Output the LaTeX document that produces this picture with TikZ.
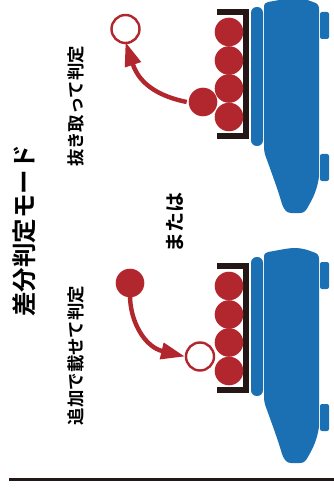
\documentclass[tikz,border=0pt]{standalone}
\usepackage{fontspec}
\setmainfont{Noto Sans CJK JP}[BoldFont={Noto Sans CJK JP Bold}]
\usetikzlibrary{arrows.meta}
\definecolor{busblue}{HTML}{1B70B3}
\definecolor{ballred}{HTML}{B2272E}
\definecolor{inkblack}{HTML}{231815}
\tikzset{
  ball/.style={circle,fill=ballred,minimum size=28.6pt,inner sep=0pt,outer sep=0pt},
  hole/.style={circle,draw=ballred,line width=2.4pt,fill=white,minimum size=28pt,inner sep=0pt,outer sep=1pt},
  move/.style={draw=ballred,line width=4.4pt,-{Triangle[length=24pt,width=16pt]}},
  tray/.style={draw=inkblack,line width=5.6pt,line join=miter},
  carbody/.style={fill=busblue,draw=none},
  vlabel/.style={rotate=90,inner sep=0pt,text=black,font=\fontsize{17.4pt}{18pt}\selectfont\bfseries}
}
\newcommand{\truckshape}{
  \fill[carbody] (264,8) .. controls (264,4) and (265,2.5) .. (268,2)
    .. controls (280,0) and (288,-2) .. (295,-2) .. controls (302,-2) and (308,0) .. (313,2)
    .. controls (317,3) and (319,5) .. (319,9) -- (319,177) .. controls (317,190) and (313,198) .. (309,205)
    .. controls (306,211) and (304,213) .. (300,213) -- (291,213) .. controls (287,213) and (284,210) .. (282,204)
    .. controls (278,190) and (272,174) .. (267,160) .. controls (265,155) and (264,152) .. (264,146) -- cycle;
  \fill[carbody,rounded corners=5.8pt] (251,7) rectangle (263,146);
  \fill[carbody,rounded corners=2pt] (320,12) rectangle (329,39);
  \fill[carbody,rounded corners=2pt] (320,154) rectangle (329,181);
}
\begin{document}
\begin{tikzpicture}[x=1pt,y=-1pt]
\useasboundingbox (0,0) rectangle (334,497);
\fill[white] (0,0) rectangle (334,497);
\begin{scope}
\clip (0,0) rectangle (334,497);
\truckshape
\begin{scope}[shift={(0,250)}]\truckshape\end{scope}
\end{scope}
% trays
\draw[tray] (217,12) -- (246,12) -- (246,136) -- (217,136);
\draw[tray] (217,266) -- (246,266) -- (246,390) -- (217,390);
% balls, upper
\node[ball] (u1) at (229,32) {};
\node[ball] (u2) at (229,60.5) {};
\node[ball] (u3) at (229,88.5) {};
\node[ball] (u4) at (229,117) {};
\node[ball] (ux) at (203,102) {};
\node[hole] (uo) at (125.5,29) {};
% balls, lower
\node[ball] (l1) at (229,286) {};
\node[ball] (l2) at (229,314.5) {};
\node[ball] (l3) at (229,342.5) {};
\node[ball] (l4) at (229,371) {};
\node[ball] (lx) at (130,283) {};
\node[hole] (lo) at (200,356.5) {};
% connectors
\draw[move] ([xshift=-2pt]ux.west) .. controls (162,97) and (140,86) .. ([yshift=2pt]uo.south);
\draw[move] ([yshift=2pt]lx.south) .. controls (130,322) and (145,347) .. (lo.west);
% rule
\coordinate (ruleL) at (9,479.5);
\coordinate (ruleR) at (334,479.5);
\draw[inkblack,line width=2.6pt] (ruleL) -- (ruleR);
% texts
\node[rotate=90,inner sep=0pt,font=\fontsize{24.5pt}{26pt}\selectfont\bfseries] (title) at (24,231) {差分判定モード};
\node[vlabel] (t1) at (76,106.5) {抜き取って判定};
\node[vlabel] (t2) at (76,355.5) {追加で載せて判定};
\node[rotate=90,inner sep=0pt,font=\fontsize{20pt}{21pt}\selectfont\bfseries] (t3) at (175,222.5) {または};
\end{tikzpicture}
\end{document}
